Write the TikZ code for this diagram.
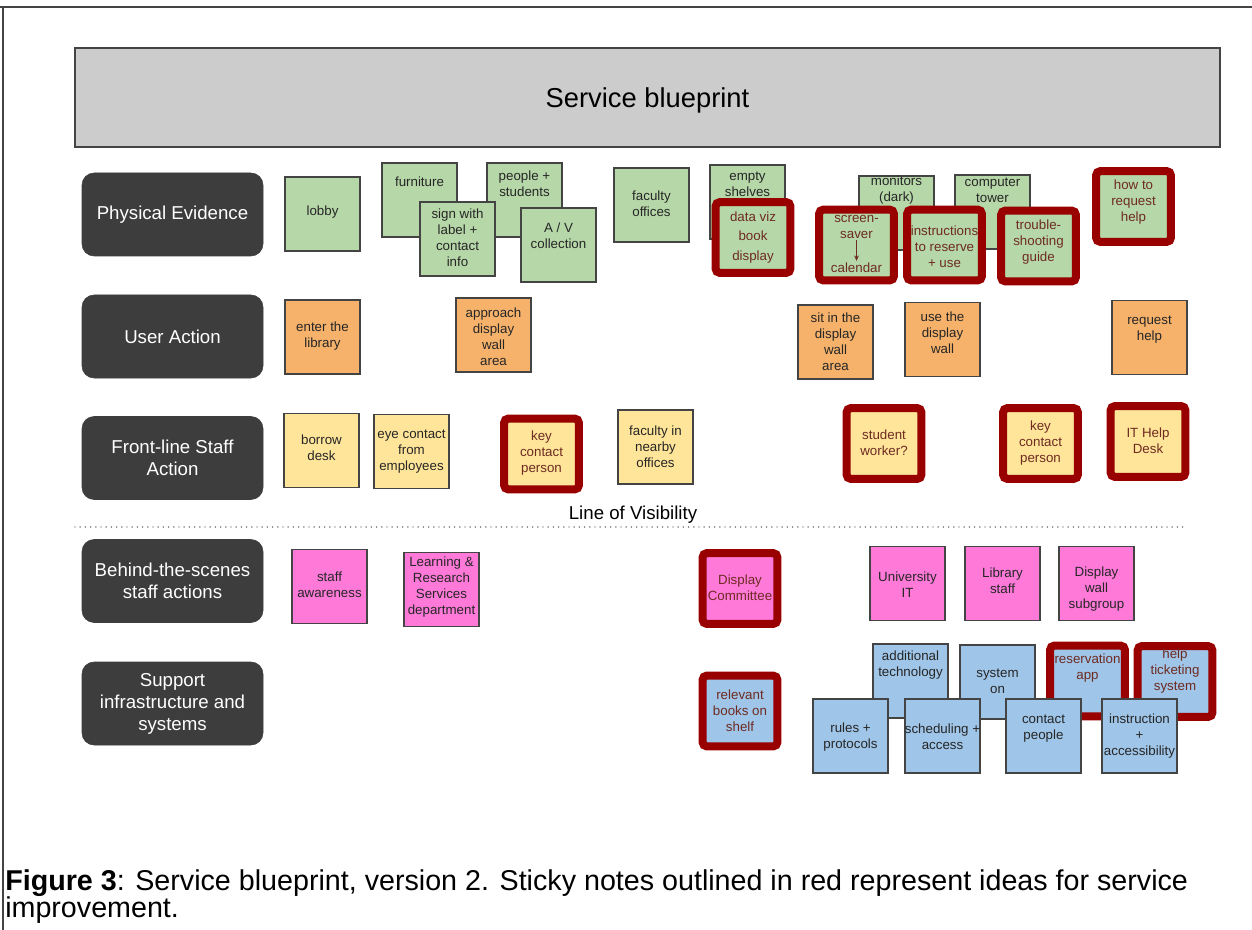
\documentclass[tikz,border=0pt]{standalone}
\usepackage{fontspec}
\setmainfont{Liberation Sans}
\usetikzlibrary{arrows.meta}
\definecolor{pgreen}{HTML}{B6D7A8}
\definecolor{porange}{HTML}{F6B26B}
\definecolor{pyellow}{HTML}{FFE599}
\definecolor{ppink}{HTML}{FF79D9}
\definecolor{pblue}{HTML}{9FC5E8}
\definecolor{notebd}{HTML}{444444}
\definecolor{redbd}{HTML}{990000}
\definecolor{ntxt}{HTML}{262626}
\definecolor{rtxt}{HTML}{6E2B22}
\definecolor{labfill}{HTML}{3D3D3D}
\definecolor{titlefill}{HTML}{CCCCCC}
\newcommand\sticky[7]{\node[#2] (#1) at (#4,#5) {}; \node[#3] (#1t) at (#4,#6) {#7};}
\begin{document}
\begin{tikzpicture}[x=0.75pt,y=-0.75pt,
  note/.style={rectangle, draw=notebd, line width=0.8pt, minimum width=56.25pt, minimum height=55.5pt, inner sep=0pt},
  rnote/.style={rectangle, draw=redbd, line width=6pt, rounded corners=3pt, minimum width=56pt, minimum height=53pt, inner sep=0pt},
  gn/.style={note, fill=pgreen}, on/.style={note, fill=porange}, yn/.style={note, fill=pyellow},
  pn/.style={note, fill=ppink}, bn/.style={note, fill=pblue},
  rgn/.style={rnote, fill=pgreen}, ryn/.style={rnote, fill=pyellow}, rpn/.style={rnote, fill=ppink}, rbn/.style={rnote, fill=pblue},
  nt/.style={font=\fontsize{10}{12}\selectfont, align=center, text=ntxt, inner sep=0pt},
  rt/.style={nt, text=rtxt},
  lab/.style={rectangle, fill=labfill, draw=labfill, rounded corners=9pt, minimum width=135.75pt, minimum height=62.25pt, text=white, font=\fontsize{14}{16.5}\selectfont, align=center, inner sep=0pt}
]
\useasboundingbox (0,0) rectangle (1252,930);
\fill[white] (0,0) rectangle (1252,930);
% frame
\draw[notebd, line width=1.5pt] (0,7) -- (1252,7);
\draw[notebd, line width=1.5pt] (3,7) -- (3,930);
% title
\node[rectangle, fill=titlefill, draw=notebd, line width=1pt, minimum width=858.75pt, minimum height=74.25pt] (title) at (647.5,97.5) {};
\node[font=\fontsize{20.5}{24}\selectfont, inner sep=0pt] (titlet) at (647.5,100) {Service blueprint};
% row labels
\node[lab] (pe) at (172.5,214.5) {Physical Evidence};
\node[lab] (ua) at (172.5,336.5) {User Action};
\node[lab] (fl) at (172.5,458) {Front-line Staff\\Action};
\node[lab] (bs) at (172.5,581) {Behind-the-scenes\\staff actions};
\node[lab] (si) at (172.5,703.5) {Support\\infrastructure and\\systems};
% line of visibility
\coordinate (lvA) at (75,527);
\coordinate (lvB) at (1185,527);
\draw[black!75, line width=1.1pt, line cap=round, dash pattern=on 0pt off 3.9pt] (lvA) -- (lvB);
\node[font=\fontsize{14}{16}\selectfont, fill=white, inner sep=1pt] (lv) at (633,515) {Line of Visibility};
% physical evidence
\sticky{lobby}{gn}{nt}{322.5}{214}{212}{lobby}
\sticky{furn}{gn}{nt}{419.5}{200}{182}{furniture}
\sticky{people}{gn}{nt}{524.5}{200}{184}{people +\\students}
\sticky{sign}{gn}{nt}{457.5}{239}{238}{sign with\\label +\\contact\\info}
\sticky{av}{gn}{nt}{558.5}{245}{236}{A / V\\collection}
\sticky{facoff}{gn}{nt}{651.5}{205}{204}{faculty\\offices}
\sticky{empty}{gn}{nt}{747.5}{202}{184}{empty\\shelves}
\sticky{dataviz}{rgn}{rt}{753}{237.5}{237.5}{data viz\\[2.5pt]book\\[2.5pt]display}
\sticky{monitors}{gn}{nt}{896.5}{213}{190}{monitors\\(dark)}
\sticky{tower}{gn}{nt}{992.5}{212}{190}{computer\\tower}
\node[rgn] (screen) at (856.5,245) {};
\node[rt] (screent) at (856.5,226.5) {screen-\\saver};
\node[rt] (calt) at (856.5,268) {calendar};
\draw[rtxt, line width=0.8pt, -{Stealth[length=4pt,width=3.5pt]}] ([yshift=-1.5pt]screent.south) -- ([yshift=1.5pt]calt.north);
\sticky{instr}{rgn}{rt}{944.5}{245}{247}{instructions\\to reserve\\+ use}
\sticky{trouble}{rgn}{rt}{1038.5}{246}{242}{trouble-\\shooting\\guide}
\sticky{howto}{rgn}{rt}{1133.5}{206.5}{202}{how to\\request\\help}
% user action
\sticky{enter}{on}{nt}{322.5}{337}{336}{enter the\\library}
\sticky{approach}{on}{nt}{493.5}{335}{337}{approach\\display\\wall\\area}
\sticky{sit}{on}{nt}{835.5}{342}{342}{sit in the\\display\\wall\\area}
\sticky{use}{on}{nt}{942.5}{339.5}{333}{use the\\display\\wall}
\sticky{request}{on}{nt}{1149.5}{337.5}{330}{request\\help}
% front-line
\sticky{borrow}{yn}{nt}{321.5}{450.5}{448}{borrow\\desk}
\sticky{eye}{yn}{nt}{411.5}{451.5}{452}{eye contact\\from\\employees}
\sticky{keyA}{ryn}{rt}{541.5}{454}{453}{key\\contact\\person}
\sticky{facin}{yn}{nt}{655.5}{447}{447}{faculty in\\nearby\\offices}
\sticky{student}{ryn}{rt}{884}{443.5}{443}{student\\worker?}
\sticky{keyB}{ryn}{rt}{1040.5}{443.5}{443}{key\\contact\\person}
\sticky{ithelp}{ryn}{rt}{1148}{441.5}{441}{IT Help\\Desk}
% behind the scenes
\sticky{aware}{pn}{nt}{329.5}{586.5}{584.5}{staff\\awareness}
\sticky{lrs}{pn}{nt}{441.5}{589.5}{587}{Learning \&\\Research\\Services\\department}
\sticky{dispcom}{rpn}{rt}{740}{588.5}{588}{Display\\Committee}
\sticky{univit}{pn}{nt}{907.5}{583.5}{584.5}{University\\IT}
\sticky{libstaff}{pn}{nt}{1002.5}{583.5}{581}{Library\\staff}
\sticky{dwsub}{pn}{nt}{1096.5}{583.5}{589}{Display\\wall\\subgroup}
% support
\sticky{books}{rbn}{rt}{740}{711}{711}{relevant\\books on\\shelf}
\sticky{addtech}{bn}{nt}{910.5}{681}{665}{additional\\technology}
\sticky{syson}{bn}{nt}{997.5}{682}{681}{system\\on}
\sticky{resapp}{rbn}{rt}{1087.5}{681}{668}{reservation\\app}
\sticky{ticket}{rbn}{rt}{1175}{681.5}{671}{help\\ticketing\\system}
\sticky{rules}{bn}{nt}{850.5}{736}{737}{rules +\\protocols}
\sticky{sched}{bn}{nt}{942.5}{736}{737}{scheduling +\\access}
\sticky{contact}{bn}{nt}{1043.5}{736}{729}{contact\\people}
\sticky{instacc}{bn}{nt}{1139.5}{736}{736.5}{instruction\\+\\accessibility}
% caption
\node[anchor=base west, inner sep=0pt, font=\fontsize{21.5}{24}\selectfont] (cap1) at (5,890) {\textbf{Figure 3}: Service blueprint, version 2. Sticky notes outlined in red represent ideas for service};
\node[anchor=base west, inner sep=0pt, font=\fontsize{21.5}{24}\selectfont] (cap2) at (5,917) {improvement.};
\end{tikzpicture}
\end{document}
